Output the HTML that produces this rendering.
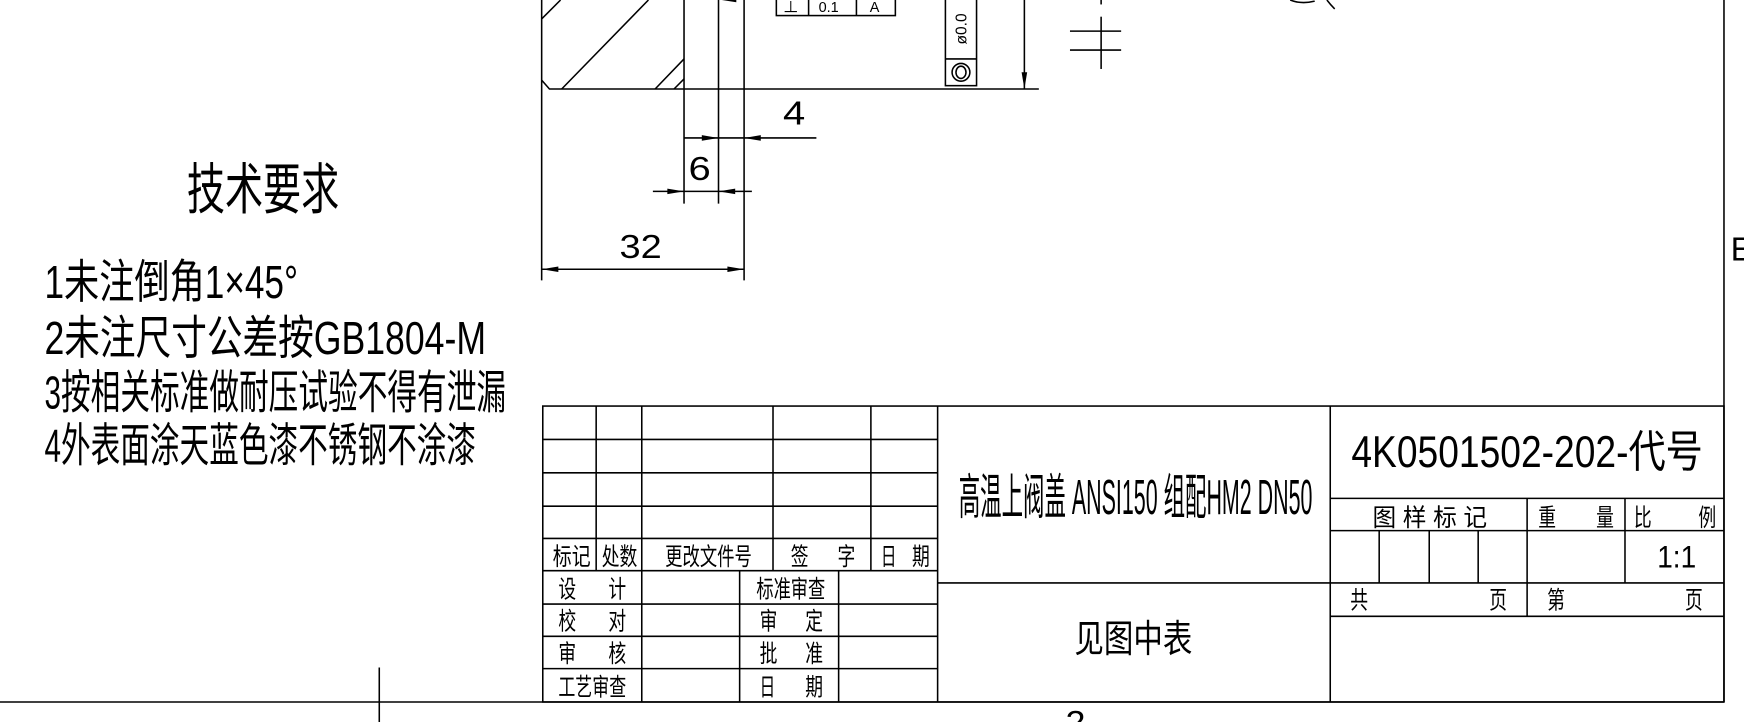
<!DOCTYPE html>
<html><head><meta charset="utf-8"><style>
html,body{margin:0;padding:0;background:#fff;width:1744px;height:722px;overflow:hidden}
svg{display:block}
text{font-family:"Liberation Sans","Noto Sans CJK SC",sans-serif;fill:#000}
</style></head><body>
<svg width="1744" height="722" viewBox="0 0 1568 649" preserveAspectRatio="none" xmlns="http://www.w3.org/2000/svg">
<g stroke="#000" stroke-width="1.4" fill="none">
<!-- drawing part -->
<line x1="487" y1="0" x2="487" y2="252"/>
<line x1="615" y1="0" x2="615" y2="183"/>
<line x1="646" y1="0" x2="646" y2="183"/>
<line x1="669" y1="0" x2="669" y2="252"/>
<polyline points="487,72 494,80 934,80"/>
<line x1="487" y1="17" x2="504" y2="0"/>
<line x1="505" y1="80" x2="583" y2="0"/>
<line x1="589" y1="80" x2="615" y2="53"/>
<line x1="606" y1="80" x2="615" y2="71"/>
<!-- dim 4 -->
<line x1="615" y1="124" x2="734" y2="124"/>
<!-- dim 6 -->
<line x1="587" y1="172" x2="676" y2="172"/>
<!-- dim 32 -->
<line x1="487" y1="242" x2="669" y2="242"/>
<!-- tolerance frame -->
<rect x="698" y="-2" width="107" height="16"/>
<line x1="727" y1="0" x2="727" y2="14"/>
<line x1="770" y1="0" x2="770" y2="14"/>
<rect x="850" y="-2" width="28" height="79"/>
<line x1="850" y1="53" x2="878" y2="53"/>
<circle cx="864" cy="65" r="8"/>
<ellipse cx="864" cy="65" rx="4.5" ry="5.5"/>
<line x1="921" y1="0" x2="921" y2="80"/>
<!-- cross mark -->
<line x1="990" y1="15" x2="990" y2="62"/>
<line x1="990" y1="0" x2="990" y2="4"/>
<line x1="962" y1="28" x2="1008" y2="28"/>
<line x1="962" y1="45" x2="1008" y2="45"/>
<path d="M1160,0 Q1170,4 1182,1"/>
<path d="M1193,0 Q1196,4 1200,8"/>
<!-- frame -->
<line x1="0" y1="631" x2="1550" y2="631"/>
<line x1="341" y1="600" x2="341" y2="649"/>
<line x1="1550" y1="0" x2="1550" y2="631"/>
<!-- title block -->
<rect x="488" y="365" width="1062" height="266"/>
<line x1="488" y1="395" x2="843" y2="395"/>
<line x1="488" y1="425" x2="843" y2="425"/>
<line x1="488" y1="455" x2="843" y2="455"/>
<line x1="488" y1="484" x2="843" y2="484"/>
<line x1="488" y1="513" x2="843" y2="513"/>
<line x1="488" y1="543" x2="843" y2="543"/>
<line x1="488" y1="572" x2="843" y2="572"/>
<line x1="488" y1="601" x2="843" y2="601"/>
<line x1="536" y1="365" x2="536" y2="513"/>
<line x1="577" y1="365" x2="577" y2="631"/>
<line x1="695" y1="365" x2="695" y2="513"/>
<line x1="783" y1="365" x2="783" y2="513"/>
<line x1="665" y1="513" x2="665" y2="631"/>
<line x1="754" y1="513" x2="754" y2="631"/>
<line x1="843" y1="365" x2="843" y2="631"/>
<line x1="843" y1="524" x2="1550" y2="524"/>
<line x1="1196" y1="365" x2="1196" y2="631"/>
<line x1="1196" y1="448" x2="1550" y2="448"/>
<line x1="1196" y1="477" x2="1550" y2="477"/>
<line x1="1196" y1="554" x2="1550" y2="554"/>
<line x1="1240" y1="477" x2="1240" y2="524"/>
<line x1="1285" y1="477" x2="1285" y2="524"/>
<line x1="1329" y1="477" x2="1329" y2="524"/>
<line x1="1373" y1="448" x2="1373" y2="554"/>
<line x1="1461" y1="448" x2="1461" y2="524"/>
</g>
<!-- arrowheads -->
<g fill="#000">
<polygon points="646,124 631,121.5 631,126.5"/>
<polygon points="669,124 684,121.5 684,126.5"/>
<polygon points="615,172 600,169.5 600,174.5"/>
<polygon points="646,172 661,169.5 661,174.5"/>
<polygon points="487,242 502,239.5 502,244.5"/>
<polygon points="669,242 654,239.5 654,244.5"/>
<polygon points="921,80 918.5,65 923.5,65"/>
<polygon points="649,0 662,-2 662,2"/>
</g>
<!-- drawing text -->
<text x="704" y="112" font-size="30" textLength="20" lengthAdjust="spacingAndGlyphs">4</text>
<text x="619" y="162" font-size="30" textLength="20" lengthAdjust="spacingAndGlyphs">6</text>
<text x="557" y="232" font-size="30" textLength="38" lengthAdjust="spacingAndGlyphs">32</text>
<text x="704" y="11" font-size="14">⊥</text>
<text x="736" y="11" font-size="13">0.1</text>
<text x="782" y="11" font-size="13">A</text>
<text transform="translate(869,40) rotate(-90)" font-size="14">ø0.0</text>
<text x="958" y="660" font-size="30" textLength="18" lengthAdjust="spacingAndGlyphs">2</text>
<text x="1556" y="234" font-size="30">E</text>
<!-- tech reqs -->
<text x="168" y="188" font-size="50" textLength="137" lengthAdjust="spacingAndGlyphs">技术要求</text>
<text x="40" y="268" font-size="42" textLength="228" lengthAdjust="spacingAndGlyphs">1未注倒角1×45°</text>
<text x="40" y="318" font-size="42" textLength="397" lengthAdjust="spacingAndGlyphs">2未注尺寸公差按GB1804-M</text>
<text x="40" y="367" font-size="42" textLength="415" lengthAdjust="spacingAndGlyphs">3按相关标准做耐压试验不得有泄漏</text>
<text x="40" y="415" font-size="42" textLength="388" lengthAdjust="spacingAndGlyphs">4外表面涂天蓝色漆不锈钢不涂漆</text>
<!-- title block text -->
<g font-size="22">
<text x="497" y="508" textLength="34" lengthAdjust="spacingAndGlyphs">标记</text>
<text x="541" y="508" textLength="32" lengthAdjust="spacingAndGlyphs">处数</text>
<text x="598" y="508" textLength="78" lengthAdjust="spacingAndGlyphs">更改文件号</text>
<text x="711" y="508" textLength="16" lengthAdjust="spacingAndGlyphs">签</text>
<text x="753" y="508" textLength="16" lengthAdjust="spacingAndGlyphs">字</text>
<text x="792" y="508" textLength="14" lengthAdjust="spacingAndGlyphs">日</text>
<text x="820" y="508" textLength="16" lengthAdjust="spacingAndGlyphs">期</text>
<text x="502" y="537" textLength="16" lengthAdjust="spacingAndGlyphs">设</text>
<text x="547" y="537" textLength="16" lengthAdjust="spacingAndGlyphs">计</text>
<text x="502" y="566" textLength="16" lengthAdjust="spacingAndGlyphs">校</text>
<text x="547" y="566" textLength="16" lengthAdjust="spacingAndGlyphs">对</text>
<text x="502" y="595" textLength="16" lengthAdjust="spacingAndGlyphs">审</text>
<text x="547" y="595" textLength="16" lengthAdjust="spacingAndGlyphs">核</text>
<text x="502" y="625" textLength="61" lengthAdjust="spacingAndGlyphs">工艺审查</text>
<text x="680" y="537" textLength="62" lengthAdjust="spacingAndGlyphs">标准审查</text>
<text x="683" y="566" textLength="16" lengthAdjust="spacingAndGlyphs">审</text>
<text x="724" y="566" textLength="16" lengthAdjust="spacingAndGlyphs">定</text>
<text x="683" y="595" textLength="16" lengthAdjust="spacingAndGlyphs">批</text>
<text x="724" y="595" textLength="16" lengthAdjust="spacingAndGlyphs">准</text>
<text x="683" y="625" textLength="14" lengthAdjust="spacingAndGlyphs">日</text>
<text x="724" y="625" textLength="16" lengthAdjust="spacingAndGlyphs">期</text>
<text x="1234" y="473" textLength="103" lengthAdjust="spacingAndGlyphs">图 样 标 记</text>
<text x="1383" y="473" textLength="16" lengthAdjust="spacingAndGlyphs">重</text>
<text x="1435" y="473" textLength="16" lengthAdjust="spacingAndGlyphs">量</text>
<text x="1469" y="473" textLength="16" lengthAdjust="spacingAndGlyphs">比</text>
<text x="1527" y="473" textLength="16" lengthAdjust="spacingAndGlyphs">例</text>
<text x="1214" y="547" textLength="16" lengthAdjust="spacingAndGlyphs">共</text>
<text x="1339" y="547" textLength="16" lengthAdjust="spacingAndGlyphs">页</text>
<text x="1391" y="547" textLength="16" lengthAdjust="spacingAndGlyphs">第</text>
<text x="1515" y="547" textLength="16" lengthAdjust="spacingAndGlyphs">页</text>
</g>
<text x="1490" y="510" font-size="28" textLength="35" lengthAdjust="spacingAndGlyphs">1:1</text>
<text x="862" y="462" font-size="44" textLength="318" lengthAdjust="spacingAndGlyphs">高温上阀盖 ANSI150 组配HM2 DN50</text>
<text x="1215" y="420" font-size="40" textLength="316" lengthAdjust="spacingAndGlyphs">4K0501502-202-代号</text>
<text x="966" y="586" font-size="34" textLength="106" lengthAdjust="spacingAndGlyphs">见图中表</text>
</svg>
</body></html>
